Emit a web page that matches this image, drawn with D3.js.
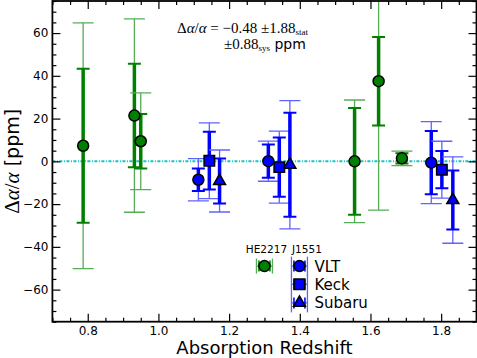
<!DOCTYPE html>
<html>
<head>
<meta charset="utf-8">
<script src="https://cdn.jsdelivr.net/npm/d3@7"></script>
<style>
body{margin:0;background:#fff;}
text{font-family:"DejaVu Sans",sans-serif;}
.axis path{display:none;}
.axis line{stroke:#000;stroke-width:1.2;}
.axis text{font-size:12px;fill:#000;}
</style>
</head>
<body>
<div id="canvas"></div>
<script>
// data (ppm)
var greenZ    = [0.787, 0.932, 0.950, 1.555, 1.623, 1.689];
var greenVal  = [7.3, 21.4, 9.4, 0.0, 37.5, 1.4];
var greenStat = [36.0, 24.2, 12.8, 25.0, 20.7, 2.4];
var greenTot  = [57.5, 45.2, 22.6, 28.7, 60.3, 3.4];

var vltZ    = [1.113, 1.311, 1.772];
var vltVal  = [-8.6, 0.1, -0.6];
var vltStat = [5.3, 7.8, 14.8];
var vltTot  = [9.9, 9.4, 19.2];

var keckZ    = [1.144, 1.342, 1.802];
var keckVal  = [0.3, -2.7, -3.9];
var keckStat = [13.5, 13.9, 8.7];
var keckTot  = [17.7, 16.8, 13.3];

var subaruZ    = [1.173, 1.372, 1.833];
var subaruVal  = [-9.2, -1.6, -18.1];
var subaruStat = [10.5, 24.3, 13.8];
var subaruTot  = [14.5, 30.0, 20.2];

var xTicks = [0.8, 1.0, 1.2, 1.4, 1.6, 1.8];
var yTicks = [-60, -40, -20, 0, 20, 40, 60];

// legend entries (placed in data space)
var legendNames = ['VLT', 'Keck', 'Subaru'];
var legendZ = 1.399, legendY = [-49, -57.5, -66.2];
var heZ = 1.300, heY = -49;

var W = 477, H = 358;
var m = {t:1, r:0.5, b:36.3, l:52.4};
var w = W - m.l - m.r, h = H - m.t - m.b;

var svg = d3.select('#canvas').append('svg')
    .attr('width', W).attr('height', H);
var plot = svg.append('g')
    .attr('transform', 'translate(' + m.l + ',' + m.t + ')');

var scaleX = d3.scaleLinear().domain([0.7, 1.9]).range([0, w]);
var scaleY = d3.scaleLinear().domain([-75, 75]).range([h, 0]);

plot.append('clipPath').attr('id', 'clip')
  .append('rect').attr('width', w).attr('height', h);

var inner = plot.append('g').attr('clip-path', 'url(#clip)');

// zero line
inner.append('line')
    .attr('x1', 0).attr('x2', w)
    .attr('y1', scaleY(0)).attr('y2', scaleY(0))
    .attr('stroke', '#17c4c4').attr('stroke-width', 2)
    .attr('stroke-dasharray', '3,1.5,1,1.5');

function rows(z, v, s, t){
  return z.map(function(d, i){ return {z:d, v:v[i], s:s[i], t:t[i]}; });
}

function errbars(data, dark, light){
  var g = inner.append('g');
  var e = g.selectAll('g').data(data).enter().append('g')
      .attr('transform', function(d){ return 'translate(' + scaleX(d.z) + ',0)'; });
  // thin (total) bars
  e.append('line').attr('x1', 0).attr('x2', 0)
      .attr('y1', function(d){ return scaleY(d.v + d.t); })
      .attr('y2', function(d){ return scaleY(d.v - d.t); })
      .attr('stroke', light).attr('stroke-width', 1.3);
  [1, -1].forEach(function(sg){
    e.append('line').attr('x1', -10.5).attr('x2', 10.5)
        .attr('y1', function(d){ return scaleY(d.v + sg*d.t); })
        .attr('y2', function(d){ return scaleY(d.v + sg*d.t); })
        .attr('stroke', light).attr('stroke-width', 1.3);
  });
  // thick (stat) bars
  e.append('line').attr('x1', 0).attr('x2', 0)
      .attr('y1', function(d){ return scaleY(d.v + d.s); })
      .attr('y2', function(d){ return scaleY(d.v - d.s); })
      .attr('stroke', dark).attr('stroke-width', 3.5);
  [1, -1].forEach(function(sg){
    e.append('line').attr('x1', -6.5).attr('x2', 6.5)
        .attr('y1', function(d){ return scaleY(d.v + sg*d.s); })
        .attr('y2', function(d){ return scaleY(d.v + sg*d.s); })
        .attr('stroke', dark).attr('stroke-width', 2);
  });
}

function markers(data, sym, size, fill){
  inner.append('g').selectAll('path').data(data).enter().append('path')
      .attr('d', d3.symbol().type(sym).size(size))
      .attr('transform', function(d){ return 'translate(' + scaleX(d.z) + ',' + scaleY(d.v) + ')'; })
      .attr('fill', fill).attr('stroke', '#000').attr('stroke-width', 1.5);
}

var green = rows(greenZ, greenVal, greenStat, greenTot);
var vlt = rows(vltZ, vltVal, vltStat, vltTot);
var keck = rows(keckZ, keckVal, keckStat, keckTot);
var subaru = rows(subaruZ, subaruVal, subaruStat, subaruTot);

errbars(green, '#008000', '#55ad55');
errbars(vlt, '#0000ff', '#6262ff');
errbars(keck, '#0000ff', '#6262ff');
errbars(subaru, '#0000ff', '#6262ff');

var sym = [d3.symbolCircle, d3.symbolSquare, d3.symbolTriangle];
var symSize = [95, 110, 62];

markers(green, d3.symbolCircle, symSize[0], '#008000');
markers(vlt, sym[0], symSize[0], '#0000ff');
markers(keck, sym[1], symSize[1], '#0000ff');
markers(subaru, sym[2], symSize[2], '#0000ff');

// legend with horizontal bars
function hbar(cx, cy, dark, light, capH){
  var g = plot.append('g').attr('transform', 'translate(' + cx + ',' + cy + ')');
  g.append('line').attr('x1', -8).attr('x2', 8).attr('y1', 0).attr('y2', 0)
      .attr('stroke', light).attr('stroke-width', 1.3);
  [-8, 8].forEach(function(x){
    g.append('line').attr('x1', x).attr('x2', x).attr('y1', -capH/2).attr('y2', capH/2)
        .attr('stroke', light).attr('stroke-width', 1.3);
  });
  [-5.5, 5.5].forEach(function(x){
    g.append('line').attr('x1', x).attr('x2', x).attr('y1', -5.5).attr('y2', 5.5)
        .attr('stroke', dark).attr('stroke-width', 1.6);
  });
  return g;
}

var he = hbar(scaleX(heZ), scaleY(heY), '#008000', '#55ad55', 15);
he.append('path').attr('d', d3.symbol().type(d3.symbolCircle).size(95))
    .attr('fill', '#008000').attr('stroke', '#000').attr('stroke-width', 1.5);

legendY.forEach(function(v, i){
  var g = hbar(scaleX(legendZ), scaleY(v), '#0000ff', '#6262ff', 19);
  g.append('path').attr('d', d3.symbol().type(sym[i]).size(symSize[i]))
      .attr('fill', '#0000ff').attr('stroke', '#000').attr('stroke-width', 1.5);
  plot.append('text')
      .attr('x', scaleX(legendZ) + 15).attr('y', scaleY(v) + 5.5)
      .style('font-size', '15px').text(legendNames[i]);
});

plot.append('text').attr('x', scaleX(heZ) + 2).attr('y', scaleY(heY) - 13)
    .attr('text-anchor', 'middle').style('font-size', '10.5px').text('HE2217');
plot.append('text').attr('x', scaleX(legendZ) + 7.5).attr('y', scaleY(heY) - 13)
    .attr('text-anchor', 'middle').style('font-size', '10.5px').text('J1551');

// axes, ticks inward on all four sides
var minorX = d3.range(0.7, 1.9001, 0.05).filter(function(d){ return Math.abs(d*5 - Math.round(d*5)) > 1e-6; });
var minorY = d3.range(-75, 75.001, 5).filter(function(d){ return d % 20 !== 0; });

plot.append('g').attr('class', 'axis').attr('transform', 'translate(0,' + h + ')')
    .call(d3.axisBottom(scaleX).tickValues(xTicks).tickFormat(d3.format('.1f')).tickSize(-8).tickPadding(5));
plot.append('g').attr('class', 'axis').attr('transform', 'translate(0,' + h + ')')
    .call(d3.axisBottom(scaleX).tickValues(minorX).tickFormat('').tickSize(-4));
plot.append('g').attr('class', 'axis')
    .call(d3.axisTop(scaleX).tickValues(xTicks).tickFormat('').tickSize(-8));
plot.append('g').attr('class', 'axis')
    .call(d3.axisTop(scaleX).tickValues(minorX).tickFormat('').tickSize(-4));

plot.append('g').attr('class', 'axis')
    .call(d3.axisLeft(scaleY).tickValues(yTicks).tickFormat(function(d){ return d < 0 ? '\u2212' + (-d) : d; }).tickSize(-8).tickPadding(4));
plot.append('g').attr('class', 'axis')
    .call(d3.axisLeft(scaleY).tickValues(minorY).tickFormat('').tickSize(-4));
plot.append('g').attr('class', 'axis').attr('transform', 'translate(' + w + ',0)')
    .call(d3.axisRight(scaleY).tickValues(yTicks).tickFormat('').tickSize(-8));
plot.append('g').attr('class', 'axis').attr('transform', 'translate(' + w + ',0)')
    .call(d3.axisRight(scaleY).tickValues(minorY).tickFormat('').tickSize(-4));

plot.append('rect').attr('width', w).attr('height', h)
    .attr('fill', 'none').attr('stroke', '#000').attr('stroke-width', 1.8);

// annotation
var serif = '"Liberation Serif","DejaVu Serif",serif';
var t1 = svg.append('text').attr('x', 177).attr('y', 33)
    .style('font-family', serif).style('font-size', '15px');
t1.append('tspan').text('\u0394');
t1.append('tspan').style('font-style', 'italic').text('\u03b1');
t1.append('tspan').text('/');
t1.append('tspan').style('font-style', 'italic').text('\u03b1');
t1.append('tspan').text(' = \u22120.48 \u00b11.88');
t1.append('tspan').attr('dy', 2).style('font-size', '9px').text('stat');

var t2 = svg.append('text').attr('x', 224).attr('y', 49)
    .style('font-family', serif).style('font-size', '15px');
t2.append('tspan').text('\u00b10.88');
t2.append('tspan').attr('dy', 2).style('font-size', '9px').text('sys');
t2.append('tspan').attr('dy', -2).style('font-family', '"DejaVu Sans",sans-serif').style('font-size', '14px').text(' ppm');

// axis labels
svg.append('text').attr('x', m.l + w/2).attr('y', 354)
    .attr('text-anchor', 'middle').style('font-size', '18px').text('Absorption Redshift');

var yl = svg.append('text').attr('transform', 'translate(19,' + (m.t + h/2) + ') rotate(-90)')
    .attr('text-anchor', 'middle').style('font-size', '19px');
yl.append('tspan').style('font-family', serif).style('font-size', '21px').text('\u0394');
yl.append('tspan').style('font-family', serif).style('font-size', '21px').style('font-style', 'italic').text('\u03b1');
yl.append('tspan').style('font-family', serif).style('font-size', '21px').text('/');
yl.append('tspan').style('font-family', serif).style('font-size', '21px').style('font-style', 'italic').text('\u03b1');
yl.append('tspan').text(' [ppm]');
</script>
</body>
</html>
